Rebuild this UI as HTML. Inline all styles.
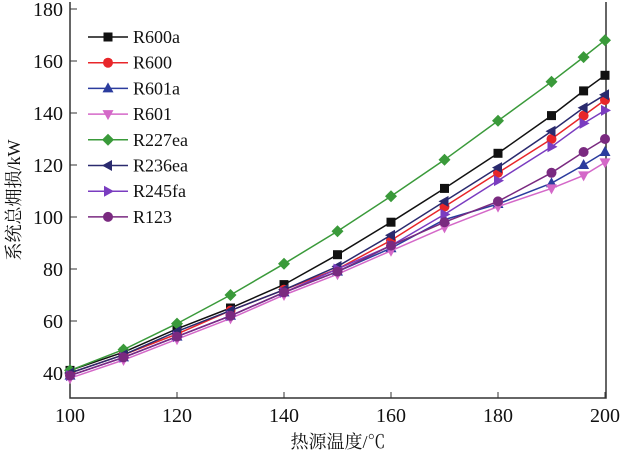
<!DOCTYPE html>
<html><head><meta charset="utf-8"><style>
body{margin:0;background:#fff}
svg text{font-family:"Liberation Serif","Noto Serif CJK SC",serif;fill:#111}
</style></head><body>
<svg width="622" height="455" id="c"></svg>
<script>
const xValues=[100,110,120,130,140,150,160,170,180,190,196,200];
const seriesNames=["R600a","R600","R601a","R601","R227ea","R236ea","R245fa","R123"];
const sR600a=[41,48,57,65,74,85.5,98,111,124.5,139,148.5,154.5];
const sR600=[40,47,55,64,72,80,91,104,117,130,139,145];
const sR601a=[39,46,54,62,71,79,88,99,105,113,120,125];
const sR601=[38,45,53,61,70,78,87,96,104,111,116,121];
const sR227ea=[41,49,59,70,82,94.5,108,122,137,152,161.5,168];
const sR236ea=[40,47,56,64,72,81,93,106,119,133,142,147];
const sR245fa=[39,46,54,62,71,80,89,101,114,127,136,141];
const sR123=[39,46,54,62,71,79,89,98,106,117,125,130];
const xTicks=[100,120,140,160,180,200];
const yTicks=[40,60,80,100,120,140,160,180];
const series=[sR600a,sR600,sR601a,sR601,sR227ea,sR236ea,sR245fa,sR123];
const colors=["#111","#e8262a","#2b3c9e","#d468c8","#3a9a3a","#2a2a6e","#7a3cc0","#7a2a80"];
const markers=["square","circle","tri-up","tri-down","diamond","tri-left","tri-right","circle"];
const X=v=>70+(v-100)*5.35, Y=v=>373-(v-40)*2.6;
const svg=document.getElementById('c'),NS="http://www.w3.org/2000/svg";
function mk(t,a,p){const e=document.createElementNS(NS,t);for(const k in a)e.setAttribute(k,a[k]);(p||svg).appendChild(e);return e;}
function marker(type,x,y,c,g){
 let e;
 if(type=="square")e=mk('rect',{x:x-4.5,y:y-4.5,width:9,height:9,fill:c},g);
 else if(type=="circle")e=mk('circle',{cx:x,cy:y,r:5,fill:c},g);
 else{let p;
  if(type=="tri-up")p=[[x,y-6],[x-5.5,y+4],[x+5.5,y+4]];
  if(type=="tri-down")p=[[x,y+6],[x-5.5,y-4],[x+5.5,y-4]];
  if(type=="tri-left")p=[[x-6,y],[x+4,y-5.5],[x+4,y+5.5]];
  if(type=="tri-right")p=[[x+6,y],[x-4,y-5.5],[x-4,y+5.5]];
  if(type=="diamond")p=[[x,y-6],[x+6,y],[x,y+6],[x-6,y]];
  e=mk('polygon',{points:p.map(q=>q.join(',')).join(' '),fill:c},g);}
 return e;
}
// axes
const ax=mk('path',{d:"M70 2V398H606V2",fill:"none",stroke:"#333","stroke-width":1.5});

xTicks.forEach(v=>{mk('line',{x1:X(v),x2:X(v),y1:398,y2:392,stroke:"#333"});
 const t=mk('text',{x:X(v),y:422,"text-anchor":"middle","font-size":20});t.textContent=v;
 });
yTicks.forEach(v=>{mk('line',{x1:70,x2:77,y1:Y(v),y2:Y(v),stroke:"#333"});
 const t=mk('text',{x:63,y:Y(v)+7,"text-anchor":"end","font-size":20});t.textContent=v;
 });
let t=mk('text',{x:338,y:448,"text-anchor":"middle","font-size":18});t.textContent="热源温度/℃";

t=mk('text',{x:0,y:0,"text-anchor":"middle","font-size":18,transform:"translate(20,200) rotate(-90)"});t.textContent="系统总㶲损/kW";

// series
series.forEach((s,i)=>{
 const g=mk('g',{});
 
 
 mk('polyline',{points:s.map((v,j)=>X(xValues[j])+','+Y(v)).join(' '),fill:"none",stroke:colors[i],"stroke-width":1.5},g);
 s.forEach((v,j)=>marker(markers[i],X(xValues[j]),Y(v),colors[i],g));
});
// legend
const lg=mk('g',{});

seriesNames.forEach((n,i)=>{
 const y=37+i*25.7;
 const e=mk('g',{},lg);
 
 mk('line',{x1:88,x2:128,y1:y,y2:y,stroke:colors[i],"stroke-width":1.5},e);
 marker(markers[i],108,y,colors[i],e);
 const tt=mk('text',{x:133,y:y+6,"font-size":18},e);tt.textContent=n;
});
</script>
</body></html>
